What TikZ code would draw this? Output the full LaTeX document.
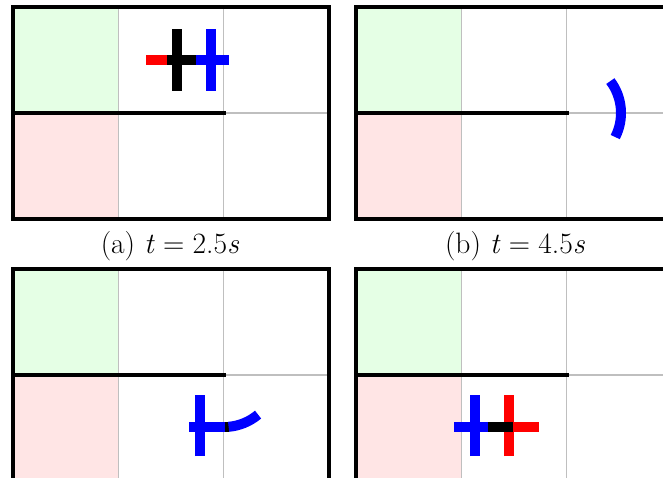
\documentclass[tikz,border=0pt]{standalone}
\usepackage{fontspec}
\tikzset{
  gridline/.style={draw=black!25, line width=1.2pt},
  wallline/.style={draw=black, line width=3.5pt},
  borderline/.style={draw=black, line width=4pt},
  bar/.style={line width=10pt, line cap=butt},
  captext/.style={anchor=base, inner sep=0pt, font=\fontsize{29.5}{34}\selectfont\addfontfeature{FakeBold=1.4}},
  panel/.pic={
    \fill[green!10] (0,106) rectangle (105.33,212);
    \fill[red!10] (0,0) rectangle (105.33,106);
    \draw[gridline] (105.33,0) -- (105.33,212);
    \draw[gridline] (210.67,0) -- (210.67,212);
    \draw[gridline] (0,106) -- (316,106);
    \draw[wallline] (0,106) -- (212.5,106);
    \draw[borderline] (0,0) rectangle (316,212);
  }
}
\begin{document}
\begin{tikzpicture}[x=1pt,y=1pt]
\useasboundingbox (0,0) rectangle (663,477);
\clip (0,0) rectangle (663,477);
% panels
\pic at (13,258) {panel};
\pic at (356,258) {panel};
\pic at (13,-4) {panel};
\pic at (356,-4) {panel};
% captions
\node[captext] (capA) at (170,224) {(a)\ \textit{t}\hspace{0.28em}=\hspace{0.28em}2.5\textit{s}};
\node[captext] (capB) at (515,224) {(b)\ \textit{t}\hspace{0.28em}=\hspace{0.28em}4.5\textit{s}};
% panel 1 robot
\draw[bar, red] (146,417) -- (167,417);
\draw[bar, black] (167,417) -- (196,417);
\draw[bar, black] (177,386) -- (177,448);
\draw[bar, blue] (211,386) -- (211,448);
\draw[bar, blue] (196,417) -- (229,417);
% panel 2 robot
\draw[bar, blue] (568,364) ++(-27:53) arc[start angle=-27, end angle=37, radius=53];
% panel 3 robot
\draw[bar, blue] (200,21) -- (200,82);
\draw[bar, blue] (189,50) -- (224.5,50);
\draw[bar, black] (224.5,50) -- (229,50);
\draw[bar, blue] (224,103) ++(-85:53) arc[start angle=-85, end angle=-50, radius=53];
% panel 4 robot
\draw[bar, blue] (475,21) -- (475,82);
\draw[bar, blue] (454,50) -- (488,50);
\draw[bar, red] (509,21) -- (509,82);
\draw[bar, black] (488,50) -- (513,50);
\draw[bar, red] (513,50) -- (539,50);
\end{tikzpicture}
\end{document}
